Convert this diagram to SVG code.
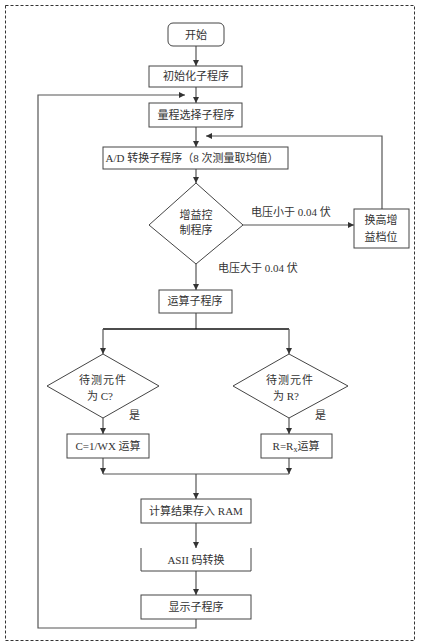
<svg xmlns="http://www.w3.org/2000/svg" width="421" height="644" viewBox="0 0 421 644">
<defs>
<marker id="ah" markerWidth="6" markerHeight="6" refX="6" refY="3" orient="auto" markerUnits="userSpaceOnUse">
<path d="M0,0 L6,3 L0,6 z" fill="#333"/>
</marker>
</defs>
<style>
.box{fill:#fff;stroke:#444;stroke-width:1}
.t{font-family:"Liberation Serif","Noto Sans CJK SC",serif;font-size:11px;fill:#333;text-anchor:middle}
.lbl{font-family:"Liberation Serif","Noto Sans CJK SC",serif;font-size:11px;fill:#333}
.c{fill:none;stroke:#555;stroke-width:1.2}
.ca{fill:none;stroke:#555;stroke-width:1.2;marker-end:url(#ah)}
</style>
<rect x="0" y="0" width="421" height="644" fill="#fff"/>
<rect x="5.5" y="5.5" width="409" height="635" fill="none" stroke="#333" stroke-width="1" stroke-dasharray="3,2"/>

<g id="connectors">
<path class="ca" d="M196,46 V66"/>
<path class="ca" d="M196,87 V103"/>
<path class="ca" d="M196,127 V147"/>
<path class="ca" d="M196,169 V183"/>
<path class="ca" d="M243,225 H354"/>
<path class="ca" d="M382,209 V136 H206"/>
<path class="ca" d="M196,264 V290"/>
<path class="c" d="M196,313 V329"/>
<path d="M103,329 H289" fill="none" stroke="#111" stroke-width="1.6"/>
<path class="ca" d="M103,329 V354"/>
<path class="ca" d="M289,329 V354"/>
<path class="ca" d="M103,418 V434"/>
<path class="ca" d="M289,418 V434"/>
<path class="ca" d="M103,458 V474"/>
<path class="ca" d="M289,458 V474"/>
<path class="c" d="M103,474 H289"/>
<path class="ca" d="M196,474 V499"/>
<path class="ca" d="M196,523 V548"/>
<path class="ca" d="M196,571 V595"/>
<path class="ca" d="M196,619 V628 H38 V95 H185"/>
<text class="lbl" x="251" y="216">电压小于 0.04 伏</text>
<text class="lbl" x="218" y="272">电压大于 0.04 伏</text>
<text class="lbl" x="129" y="419">是</text>
<text class="lbl" x="315" y="419">是</text>
</g>

<g id="start">
<rect class="box" x="168" y="23" width="56" height="23" rx="5"/>
<text class="t" x="196" y="39">开始</text>
</g>
<g id="init">
<rect class="box" x="149" y="66" width="93" height="21"/>
<text class="t" x="196" y="80">初始化子程序</text>
</g>
<g id="range">
<rect class="box" x="149" y="103" width="93" height="24"/>
<text class="t" x="196" y="119">量程选择子程序</text>
</g>
<g id="ad">
<rect class="box" x="103" y="147" width="185" height="22"/>
<text class="t" x="192" y="162">A/D 转换子程序（8 次测量取均值）</text>
</g>
<g id="gainctl">
<polygon class="box" points="196,183 243,225 196,264 149,225"/>
<text class="t" x="196" y="219">增益控</text>
<text class="t" x="196" y="234">制程序</text>
</g>
<g id="gainup">
<rect class="box" x="354" y="209" width="55" height="39"/>
<text class="t" x="381" y="224">换高增</text>
<text class="t" x="381" y="241">益档位</text>
</g>
<g id="calc">
<rect class="box" x="159" y="290" width="73" height="23"/>
<text class="t" x="195" y="305">运算子程序</text>
</g>
<g id="isC">
<polygon class="box" points="103,354 159,386 103,418 47,386"/>
<text class="t" x="103" y="384" letter-spacing="1">待测元件</text>
<text class="t" x="100" y="400">为 C?</text>
</g>
<g id="isR">
<polygon class="box" points="289,354 348,386 289,418 233,386"/>
<text class="t" x="290" y="384" letter-spacing="1">待测元件</text>
<text class="t" x="286" y="400">为 R?</text>
</g>
<g id="calcC">
<rect class="box" x="67" y="434" width="82" height="24"/>
<text class="t" x="108" y="450">C=1/WX  运算</text>
</g>
<g id="calcR">
<rect class="box" x="261" y="434" width="71" height="24"/>
<text class="t" x="296" y="450">R=R<tspan font-size="8" dy="2">x</tspan><tspan dy="-2">运算</tspan></text>
</g>
<g id="store">
<rect class="box" x="141" y="499" width="110" height="24"/>
<text class="t" x="196" y="515">计算结果存入 RAM</text>
</g>
<g id="ascii">
<path class="box" d="M141,548 V571 H251 V548"/>
<text class="t" x="196" y="564">ASII 码转换</text>
</g>
<g id="display">
<rect class="box" x="141" y="595" width="110" height="24"/>
<text class="t" x="196" y="611">显示子程序</text>
</g>
</svg>
